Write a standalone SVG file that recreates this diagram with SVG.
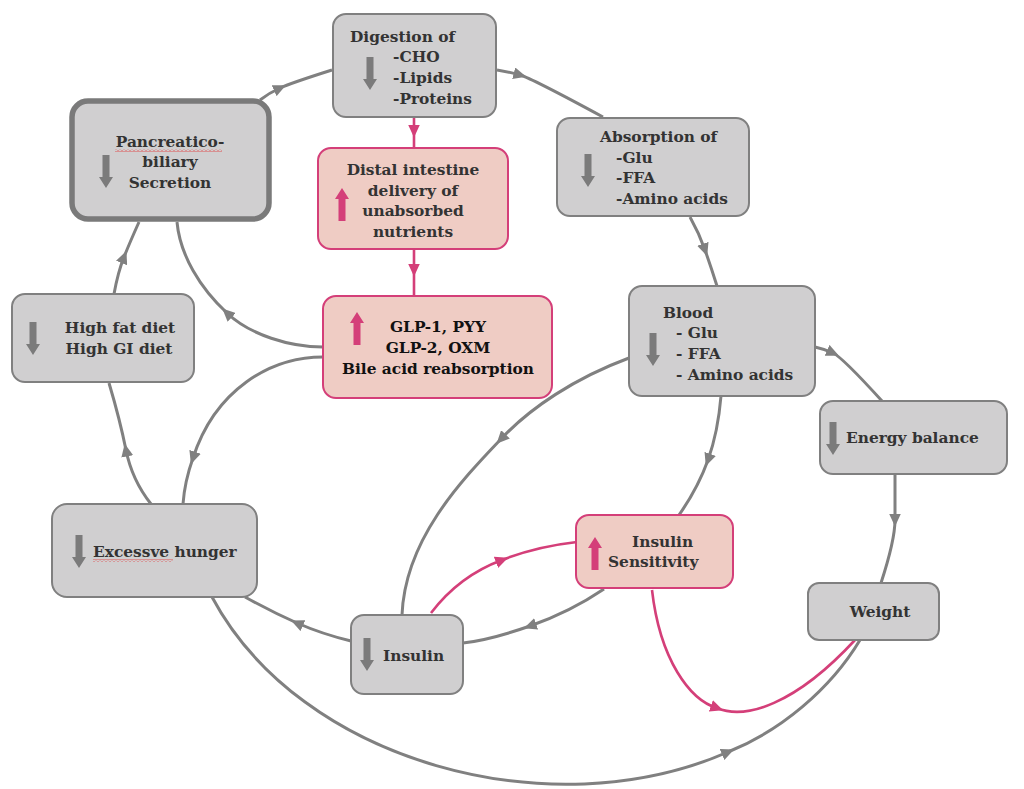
<svg xmlns="http://www.w3.org/2000/svg" xmlns:xlink="http://www.w3.org/1999/xlink" width="1024" height="789" viewBox="0 0 1024 789">
<style>
.g{fill:#d0cfd0;stroke:#808080;stroke-width:2}
.p{fill:#efccc4;stroke:#d43f79;stroke-width:2}
.t{font-family:"DejaVu Serif",serif;font-weight:bold;font-size:15.4px;fill:#333333}
.tb{fill:#111111}
.c{fill:none;stroke:#808080;stroke-width:3}
.cp{fill:none;stroke:#d43f79;stroke-width:2.6}
.dn{fill:#7b7b7b}
.up{fill:#d43f79}
</style>
<defs>
<marker id="ag" viewBox="0 0 13 12" refX="6.5" refY="6" markerWidth="13" markerHeight="12" markerUnits="userSpaceOnUse" orient="auto"><path d="M0,0 L13,6 L0,12 z" fill="#808080"/></marker>
<marker id="ap" viewBox="0 0 13 12" refX="6.5" refY="6" markerWidth="13" markerHeight="12" markerUnits="userSpaceOnUse" orient="auto"><path d="M0,0 L13,6 L0,12 z" fill="#d43f79"/></marker>
<path id="dnA" d="M-3.5,0 h7 v22 h3.5 l-7,11 l-7,-11 h3.5 z"/>
<path id="upA" d="M-3.5,33 h7 v-22 h3.5 l-7,-11 l-7,11 h3.5 z"/>
<pattern id="wave" width="4" height="3" patternUnits="userSpaceOnUse"><path d="M0,2.5 L2,0.5 L4,2.5" stroke="#e04545" fill="none" stroke-width="0.9"/></pattern>
</defs>
<rect width="1024" height="789" fill="#ffffff"/>

<g id="connectors">
<path class="c" marker-mid="url(#ag)" d="M260 100 Q269 93 280 88 T332 70"/>
<path class="c" marker-mid="url(#ag)" d="M497 70 Q509 72 520 75 T603 117"/>
<path class="c" marker-mid="url(#ag)" d="M690 217 Q699 233 705 250 T717 286"/>
<path class="c" marker-mid="url(#ag)" d="M815 347 Q824 349 833 353 T882 401"/>
<path class="c" marker-mid="url(#ag)" d="M895 474 Q895 500 895 520 T881 583"/>
<path class="c" marker-mid="url(#ag)" d="M212 597 C300 762 550 830 728 752 C780 731 830 690 860 640"/>
<path class="c" marker-mid="url(#ag)" d="M721 396 Q718 432 708 460 T679 515"/>
<path class="c" marker-mid="url(#ag)" d="M629 358 C575 378 530 408 501 439 C460 482 405 540 402 615"/>
<path class="c" marker-mid="url(#ag)" d="M604 589 Q570 612 530 626 T463 643"/>
<path class="c" marker-mid="url(#ag)" d="M351 641 Q322 634 297 623 T245 597"/>
<path class="c" marker-mid="url(#ag)" d="M151 504 Q132 480 126 450 T109 383"/>
<path class="c" marker-mid="url(#ag)" d="M114 294 Q118 272 124 257 T139 222"/>
<path class="c" marker-mid="url(#ag)" d="M323 347 C290 347 250 335 227 313 C200 288 180 255 177 222"/>
<path class="c" marker-mid="url(#ag)" d="M323 357 C270 357 215 390 193 458 C188 472 184 490 183 504"/>
<path class="cp" marker-mid="url(#ap)" d="M414 117 L414 131 L414 148"/>
<path class="cp" marker-mid="url(#ap)" d="M414 249 L414 270 L414 296"/>
<path class="cp" marker-mid="url(#ap)" d="M431 613 C450 588 475 570 502 560 C525 551 550 545 577 542"/>
<path class="cp" marker-mid="url(#ap)" d="M652 590 C660 660 690 700 717 708 C745 720 795 705 855 640"/>
</g>

<g id="digestion">
<rect class="g" x="333" y="14" width="163" height="103" rx="13"/>
<text class="t" x="350" y="42">Digestion of</text>
<text class="t" x="393" y="62">-CHO</text>
<text class="t" x="393" y="83">-Lipids</text>
<text class="t" x="393" y="104">-Proteins</text>
<use href="#dnA" class="dn" x="370" y="57"/>
</g>

<g id="pancreatico">
<rect x="72" y="101" width="197" height="118" rx="16" fill="#d0cfd0" stroke="#7a7a7a" stroke-width="5.5"/>
<text class="t" x="170" y="147" text-anchor="middle">Pancreatico-</text>
<text class="t" x="170" y="167" text-anchor="middle">biliary</text>
<text class="t" x="170" y="188" text-anchor="middle">Secretion</text>
<rect x="115" y="149" width="107" height="3" fill="url(#wave)"/>
<use href="#dnA" class="dn" x="106" y="155"/>
</g>

<g id="distal">
<rect class="p" x="318" y="148" width="190" height="101" rx="13"/>
<text class="t" x="413" y="175" text-anchor="middle">Distal intestine</text>
<text class="t" x="413" y="196" text-anchor="middle">delivery of</text>
<text class="t" x="413" y="216" text-anchor="middle">unabsorbed</text>
<text class="t" x="413" y="237" text-anchor="middle">nutrients</text>
<use href="#upA" class="up" x="342" y="188"/>
</g>

<g id="absorption">
<rect class="g" x="557" y="118" width="192" height="98" rx="13"/>
<text class="t" x="600" y="142">Absorption of</text>
<text class="t" x="616" y="163">-Glu</text>
<text class="t" x="616" y="183">-FFA</text>
<text class="t" x="616" y="204">-Amino acids</text>
<use href="#dnA" class="dn" x="588" y="154"/>
</g>

<g id="blood">
<rect class="g" x="629" y="286" width="186" height="110" rx="13"/>
<text class="t" x="663" y="318">Blood</text>
<text class="t" x="676" y="338">- Glu</text>
<text class="t" x="676" y="359">- FFA</text>
<text class="t" x="676" y="380">- Amino acids</text>
<use href="#dnA" class="dn" x="653" y="333"/>
</g>

<g id="highfat">
<rect class="g" x="12" y="294" width="182" height="88" rx="13"/>
<text class="t" x="120" y="333" text-anchor="middle">High fat diet</text>
<text class="t" x="119" y="354" text-anchor="middle">High GI diet</text>
<use href="#dnA" class="dn" x="33" y="322"/>
</g>

<g id="glp">
<rect class="p" x="323" y="296" width="229" height="102" rx="13"/>
<text class="t tb" x="438" y="332" text-anchor="middle">GLP-1, PYY</text>
<text class="t tb" x="438" y="353" text-anchor="middle">GLP-2, OXM</text>
<text class="t tb" x="438" y="374" text-anchor="middle">Bile acid reabsorption</text>
<use href="#upA" class="up" x="357" y="312"/>
</g>

<g id="energy">
<rect class="g" x="820" y="401" width="187" height="73" rx="13"/>
<text class="t" x="846" y="443">Energy balance</text>
<use href="#dnA" class="dn" x="833" y="422"/>
</g>

<g id="hunger">
<rect class="g" x="52" y="504" width="205" height="93" rx="15"/>
<text class="t" x="93" y="557">Excessve hunger</text>
<rect x="93" y="559" width="80" height="3" fill="url(#wave)"/>
<use href="#dnA" class="dn" x="79" y="535"/>
</g>

<g id="sensitivity">
<rect class="p" x="576" y="515" width="157" height="73" rx="13"/>
<text class="t" x="632" y="547">Insulin</text>
<text class="t" x="608" y="567">Sensitivity</text>
<use href="#upA" class="up" x="595" y="537"/>
</g>

<g id="insulin">
<rect class="g" x="351" y="615" width="112" height="79" rx="13"/>
<text class="t" x="383" y="661">Insulin</text>
<use href="#dnA" class="dn" x="367" y="638"/>
</g>

<g id="weight">
<rect class="g" x="808" y="583" width="131" height="57" rx="11"/>
<text class="t" x="880" y="617" text-anchor="middle">Weight</text>
</g>
</svg>
